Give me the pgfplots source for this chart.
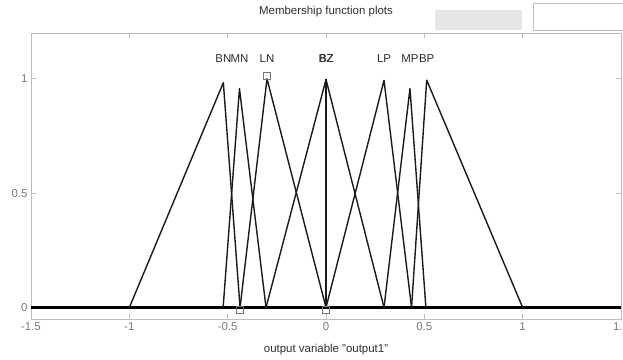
\documentclass[border=0pt]{standalone}
\usepackage{fontspec}
\setmainfont{Liberation Sans}
\usepackage{pgfplots}
\pgfplotsset{compat=1.18}
\definecolor{axgray}{HTML}{BDBDBD}
\definecolor{lblgray}{HTML}{7A7A7A}
\definecolor{mfline}{HTML}{1A1A1A}
\definecolor{txtdark}{HTML}{2E2E2E}
\definecolor{panelgray}{HTML}{E6E6E6}
\newcommand{\mffont}{\fontsize{11.5}{13}\selectfont}
\begin{document}
\begin{tikzpicture}
\clip (-31bp,-41bp) rectangle (592bp,319bp);
% window widgets above the plot
\fill[panelgray] (404bp,289bp) rectangle (491bp,309bp);
\draw[white!75!black, line width=0.6bp, fill=white] (502bp,289bp) rectangle (592bp,316bp);
\begin{axis}[
  at={(0,0)}, anchor=south west,
  scale only axis, width=590bp, height=286bp,
  xmin=-1.5, xmax=1.5, ymin=-0.05, ymax=1.2,
  axis line style={axgray, line width=0.8bp},
  xtick={-1.5,-1,-0.5,0,0.5,1,1.5},
  xticklabels={-1.5,-1,-0.5,0,0.5,1,1.5},
  ytick={0,0.5,1}, yticklabels={0,0.5,1},
  tick style={axgray, line width=0.8bp},
  major tick length=5bp,
  tick align=inside,
  tick pos=both,
  tick label style={font=\mffont, text=lblgray},
  title={Membership function plots},
  title style={font=\mffont, text=txtdark, at={(axis description cs:0.5,1)}, anchor=center, yshift=15bp},
  xlabel={output variable "output1"},
  xlabel style={font=\mffont, text=txtdark, at={(axis description cs:0.5,0)}, anchor=center, yshift=-31bp},
  clip=false,
  every axis plot/.append style={line join=round},
]
% universe of discourse (zero membership)
\addplot[black, line width=2.4bp] coordinates {(-1.5,0) (1.5,0)};
\addplot[black, line width=3.4bp] coordinates {(0.62,0) (1.5,0)};
% triangular membership functions
\addplot[mfline, line width=1.4bp] coordinates {(-1,0) (-0.522,0.983) (-0.437,0)};      % BN
\addplot[mfline, line width=1.4bp] coordinates {(-0.523,0) (-0.44,0.957) (-0.305,0)};   % MN
\addplot[mfline, line width=1.4bp] coordinates {(-0.437,0) (-0.3,1) (0,0)};             % LN
\addplot[mfline, line width=1.4bp] coordinates {(-0.305,0) (0,0.997) (0.295,0)};        % BZ
\addplot[mfline, line width=1.8bp] coordinates {(0,0) (0,0.997)};                       % BZ (singleton)
\addplot[mfline, line width=1.4bp] coordinates {(0,0) (0.295,0.993) (0.435,0)};         % LP
\addplot[mfline, line width=1.4bp] coordinates {(0.295,0) (0.427,0.957) (0.508,0)};     % MP
\addplot[mfline, line width=1.4bp] coordinates {(0.435,0) (0.512,0.994) (1,0)};         % BP
% selection handles
\addplot[only marks, mark=square, mark size=3.5bp, color=black!55, mark options={line width=0.7bp}]
  coordinates {(-0.3,1.012) (-0.44,-0.012) (0,-0.012)};
% membership function names
\begin{scope}[every node/.style={font=\mffont, text=txtdark, inner sep=0pt}]
\node at (axis cs:-0.522,1.09) {BN};
\node at (axis cs:-0.44,1.09) {MN};
\node at (axis cs:-0.3,1.09) {LN};
\node at (axis cs:0,1.09) {BZ};
\node[xshift=0.6bp] at (axis cs:0,1.09) {BZ};
\node at (axis cs:0.295,1.09) {LP};
\node at (axis cs:0.427,1.09) {MP};
\node at (axis cs:0.512,1.09) {BP};
\end{scope}
\end{axis}
\end{tikzpicture}
\end{document}
